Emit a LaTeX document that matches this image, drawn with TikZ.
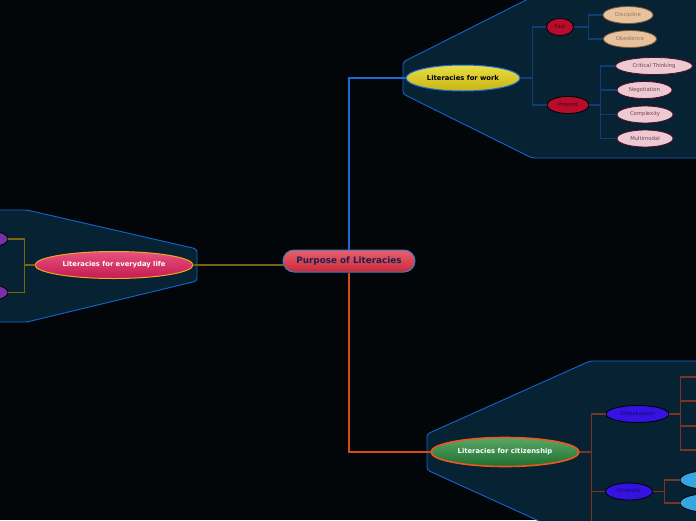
\documentclass[tikz,border=0pt]{standalone}
\usepackage{fontspec}
\setmainfont{DejaVu Sans}
\usepackage{xcolor}
\usetikzlibrary{shapes.geometric}

\definecolor{bgdark}{HTML}{030608}
\definecolor{panelfill}{HTML}{062233}
\definecolor{panelline}{HTML}{1464D0}
\definecolor{roottop}{HTML}{E8606E}
\definecolor{rootbottom}{HTML}{C82A3A}
\definecolor{rootline}{HTML}{3A7EC0}
\definecolor{roottext}{HTML}{1C2050}
\definecolor{worktop}{HTML}{E8DE44}
\definecolor{workbottom}{HTML}{C8B414}
\definecolor{citizentop}{HTML}{5AA866}
\definecolor{citizenbottom}{HTML}{1E6E30}
\definecolor{citizenline}{HTML}{F0561E}
\definecolor{lifetop}{HTML}{E8527E}
\definecolor{lifebottom}{HTML}{C41A52}
\definecolor{lifeline}{HTML}{F0A820}
\definecolor{crimson}{HTML}{B80C2C}
\definecolor{crimsontext}{HTML}{4A0012}
\definecolor{tanfill}{HTML}{E8C29C}
\definecolor{tanline}{HTML}{7A5A3C}
\definecolor{tantext}{HTML}{8C7666}
\definecolor{pinkfill}{HTML}{ECCAD2}
\definecolor{pinkline}{HTML}{5A0A28}
\definecolor{pinktext}{HTML}{7A3A58}
\definecolor{violetfill}{HTML}{3412E0}
\definecolor{violettext}{HTML}{1A0A60}
\definecolor{skyfill}{HTML}{36A6E2}
\definecolor{purplefill}{HTML}{7830A8}
\definecolor{workwire}{HTML}{1A6AD8}
\definecolor{workbus}{HTML}{0E3E78}
\definecolor{citwire}{HTML}{D84A18}
\definecolor{citbus}{HTML}{7A3422}
\definecolor{lifewire}{HTML}{7A6412}

\begin{document}
\begin{tikzpicture}[
x=1pt, y=-1pt,
panel/.style={draw=panelline, fill=panelfill, line width=0.9pt, rounded corners=3pt},
root/.style={draw=rootline, line width=1pt, rounded corners=11pt, minimum width=132pt, minimum height=22pt, inner sep=0pt, top color=roottop, bottom color=rootbottom, text=roottext, font=\bfseries\fontsize{8.8}{10}\selectfont},
topic/.style={ellipse, inner sep=0pt, line width=1pt, font=\bfseries\fontsize{6.8}{8}\selectfont},
sub/.style={ellipse, draw=black, line width=0.8pt, inner sep=0pt, minimum height=17pt, font=\fontsize{5.3}{6}\selectfont},
leaf/.style={ellipse, line width=0.8pt, inner sep=0pt, minimum width=56pt, minimum height=17pt, font=\fontsize{5.3}{6}\selectfont},
tanleaf/.style={leaf, draw=tanline, fill=tanfill, text=tantext},
pinkleaf/.style={leaf, draw=pinkline, fill=pinkfill, text=pinktext},
worklink/.style={draw=workwire, line width=1.2pt},
workbranch/.style={draw=workbus, line width=1.1pt},
citlink/.style={draw=citwire, line width=1.2pt},
citbranch/.style={draw=citbus, line width=1.1pt},
lifelink/.style={draw=lifewire, line width=1.2pt}
]
\useasboundingbox[fill=bgdark] (0,0) rectangle (696,520);

% panels
\draw[panel] (403,62) -- (534,-4) -- (702,-4) -- (702,158) -- (532,158) -- (403,94) -- cycle;
\draw[panel] (427,434) -- (590,361) -- (702,361) -- (702,526) -- (550,526) -- (427,470) -- cycle;
\draw[panel] (-6,210) -- (27,210) -- (197,249) -- (197,281) -- (27,322) -- (-6,322) -- cycle;

% main nodes
\node[root] (purpose) at (349,261) {Purpose of Literacies};
\node[topic, draw=workwire, top color=worktop, bottom color=workbottom, minimum width=114pt, minimum height=26pt] (work) at (463,78) {Literacies for work};
\node[topic, draw=citizenline, line width=1.6pt, top color=citizentop, bottom color=citizenbottom, text=white, minimum width=148pt, minimum height=29pt] (citizen) at (505,452) {Literacies for citizenship};
\node[topic, draw=lifeline, top color=lifetop, bottom color=lifebottom, text=white, minimum width=158pt, minimum height=27pt] (life) at (114,265) {Literacies for everyday life};

% work
\node[sub, fill=crimson, text=crimsontext, minimum width=27pt] (past) at (560,27) {Past};
\node[sub, fill=crimson, text=crimsontext, minimum width=42pt] (present) at (568,105) {Present};
\node[tanleaf, minimum width=50pt] (discipline) at (628,15) {Discipline};
\node[tanleaf, minimum width=53pt] (obedience) at (630,39) {Obedience};
\node[pinkleaf, minimum width=77pt] (critical) at (654,66) {Critical Thinking};
\node[pinkleaf, minimum width=55pt] (negotiation) at (644.5,90) {Negotiation};
\node[pinkleaf] (complexity) at (645,114.5) {Complexity};
\node[pinkleaf] (multimodal) at (645,138.5) {Multimodal};

% citizenship
\node[sub, fill=violetfill, text=violettext, minimum width=63pt] (globalization) at (637.5,414) {Globalization};
\node[sub, fill=violetfill, text=violettext, minimum width=47pt] (diversity) at (629,491.5) {Diversity};
\node[sub, fill=skyfill, minimum width=50pt, minimum height=18pt] (divone) at (705,480) {};
\node[sub, fill=skyfill, minimum width=50pt, minimum height=18pt] (divtwo) at (705,503) {};
\coordinate (citmore) at (606,545);
\coordinate (globone) at (710,377);
\coordinate (globtwo) at (710,401);
\coordinate (globthree) at (710,426);
\coordinate (globfour) at (710,450);

% everyday life
\node[sub, fill=purplefill, minimum width=50pt, minimum height=18pt] (lifeone) at (-17,239) {};
\node[sub, fill=purplefill, minimum width=50pt, minimum height=18pt] (lifetwo) at (-17,292.5) {};

% links from the root
\draw[worklink] (purpose.north) |- (work.west);
\draw[citlink] (purpose.south) |- (citizen.west);
\draw[lifelink] (life.east) -- (life.east -| purpose.west);

% branches
\foreach \n in {past,present}
  \draw[workbranch] (work.east) -- ++(12,0) |- (\n.west);
\foreach \n in {discipline,obedience}
  \draw[workbranch] (past.east) -- ++(15,0) |- (\n.west);
\foreach \n in {critical,negotiation,complexity,multimodal}
  \draw[workbranch] (present.east) -- ++(11.5,0) |- (\n.west);
\foreach \n in {globalization,diversity,citmore}
  \draw[citbranch] (citizen.east) -- ++(12,0) |- (\n);
\foreach \n in {globone,globtwo,globthree,globfour}
  \draw[citbranch] (globalization.east) -- ++(11,0) |- (\n);
\foreach \n in {divone,divtwo}
  \draw[citbranch] (diversity.east) -- ++(12,0) |- (\n.west);
\foreach \n in {lifeone,lifetwo}
  \draw[lifelink] (life.west) -- ++(-10,0) |- (\n.east);
\end{tikzpicture}
\end{document}
